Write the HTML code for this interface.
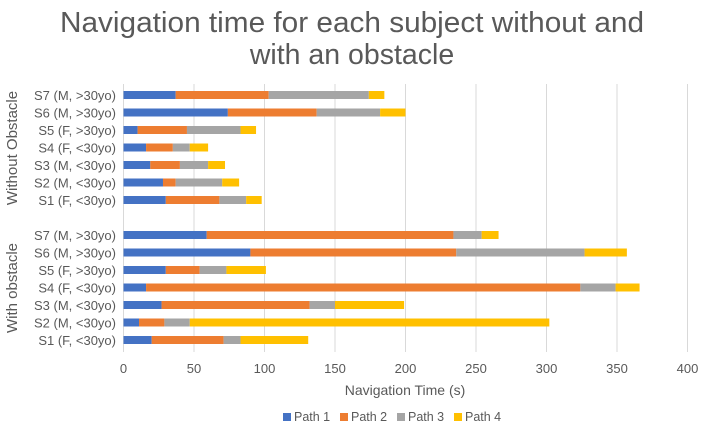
<!DOCTYPE html>
<html><head><meta charset="utf-8"><style>
body{margin:0;background:#fff;width:704px;height:427px;overflow:hidden;font-family:"Liberation Sans",sans-serif}
</style></head><body>
<svg id="chart" width="704" height="427" xmlns="http://www.w3.org/2000/svg">
<text x="352" y="32" text-anchor="middle" font-size="28.5" fill="#595959" textLength="584" lengthAdjust="spacingAndGlyphs">Navigation time for each subject without and</text>
<text x="352" y="64" text-anchor="middle" font-size="28.5" fill="#595959">with an obstacle</text>
<g id="grid"></g><g id="bars"></g><g id="labels"></g>
<text x="405" y="395" text-anchor="middle" font-size="14" fill="#595959">Navigation Time (s)</text>
<text transform="translate(17,148) rotate(-90)" text-anchor="middle" font-size="15" fill="#595959">Without  Obstacle</text>
<text transform="translate(17,288) rotate(-90)" text-anchor="middle" font-size="15" fill="#595959">With obstacle</text>
<g id="legend"></g>
</svg>
<script>
const categories = ["S7  (M, >30yo)","S6  (M, >30yo)","S5 (F, >30yo)","S4 (F, <30yo)","S3 (M, <30yo)","S2 (M, <30yo)","S1 (F, <30yo)"];
const seriesNames = ["Path 1","Path 2","Path 3","Path 4"];
const colors = ["#4472C4","#ED7D31","#A5A5A5","#FFC000"];
const withoutP1 = [37,74,10,16,19,28,30];
const withoutP2 = [66,63,35,19,21,9,38];
const withoutP3 = [71,45,38,12,20,33,19];
const withoutP4 = [11,18,11,13,12,12,11];
const withP1 = [59,90,30,16,27,11,20];
const withP2 = [175,146,24,308,105,18,51];
const withP3 = [20,91,19,25,18,18,12];
const withP4 = [12,30,28,17,49,255,48];
const xTicks = [0,50,100,150,200,250,300,350,400];

const NS="http://www.w3.org/2000/svg";
const x0=123.5, x1=687.5, xmax=400;
const xs=v=>x0+v*(x1-x0)/xmax;
const rowY=i=>95+i*17.5;
function mk(tag,attrs,parent){const e=document.createElementNS(NS,tag);for(const k in attrs)e.setAttribute(k,attrs[k]);parent.appendChild(e);return e;}
const grid=document.getElementById('grid'),bars=document.getElementById('bars'),labels=document.getElementById('labels'),legend=document.getElementById('legend');
xTicks.forEach(t=>{
  const l=mk('line',{x1:xs(t),x2:xs(t),y1:84,y2:352,stroke:'#d9d9d9','stroke-width':1},grid);
  
  
  const tx=mk('text',{x:xs(t),y:373,'text-anchor':'middle','font-size':13,fill:'#595959'},grid);
  tx.textContent=t;
  
  
});
const groups=[{key:'without',data:[withoutP1,withoutP2,withoutP3,withoutP4],off:0},{key:'with',data:[withP1,withP2,withP3,withP4],off:8}];
groups.forEach(g=>{
  categories.forEach((c,i)=>{
    const y=rowY(i+g.off);
    let acc=0;
    g.data.forEach((s,k)=>{
      const r=mk('rect',{x:xs(acc),y:y-4,width:xs(acc+s[i])-xs(acc),height:8,fill:colors[k]},bars);
      
      
      acc+=s[i];
    });
    const t=mk('text',{x:116,y:y+5,'text-anchor':'end','font-size':13,fill:'#595959'},labels);
    t.textContent=c;
    
    
  });
});
let lx=283;
seriesNames.forEach((n,k)=>{
  const r=mk('rect',{x:lx,y:413,width:8,height:8,fill:colors[k]},legend);
  
  
  const t=mk('text',{x:lx+11,y:421,'font-size':12.5,fill:'#595959'},legend);
  t.textContent=n;
  
  
  lx+=57;
});
</script>
</body></html>
